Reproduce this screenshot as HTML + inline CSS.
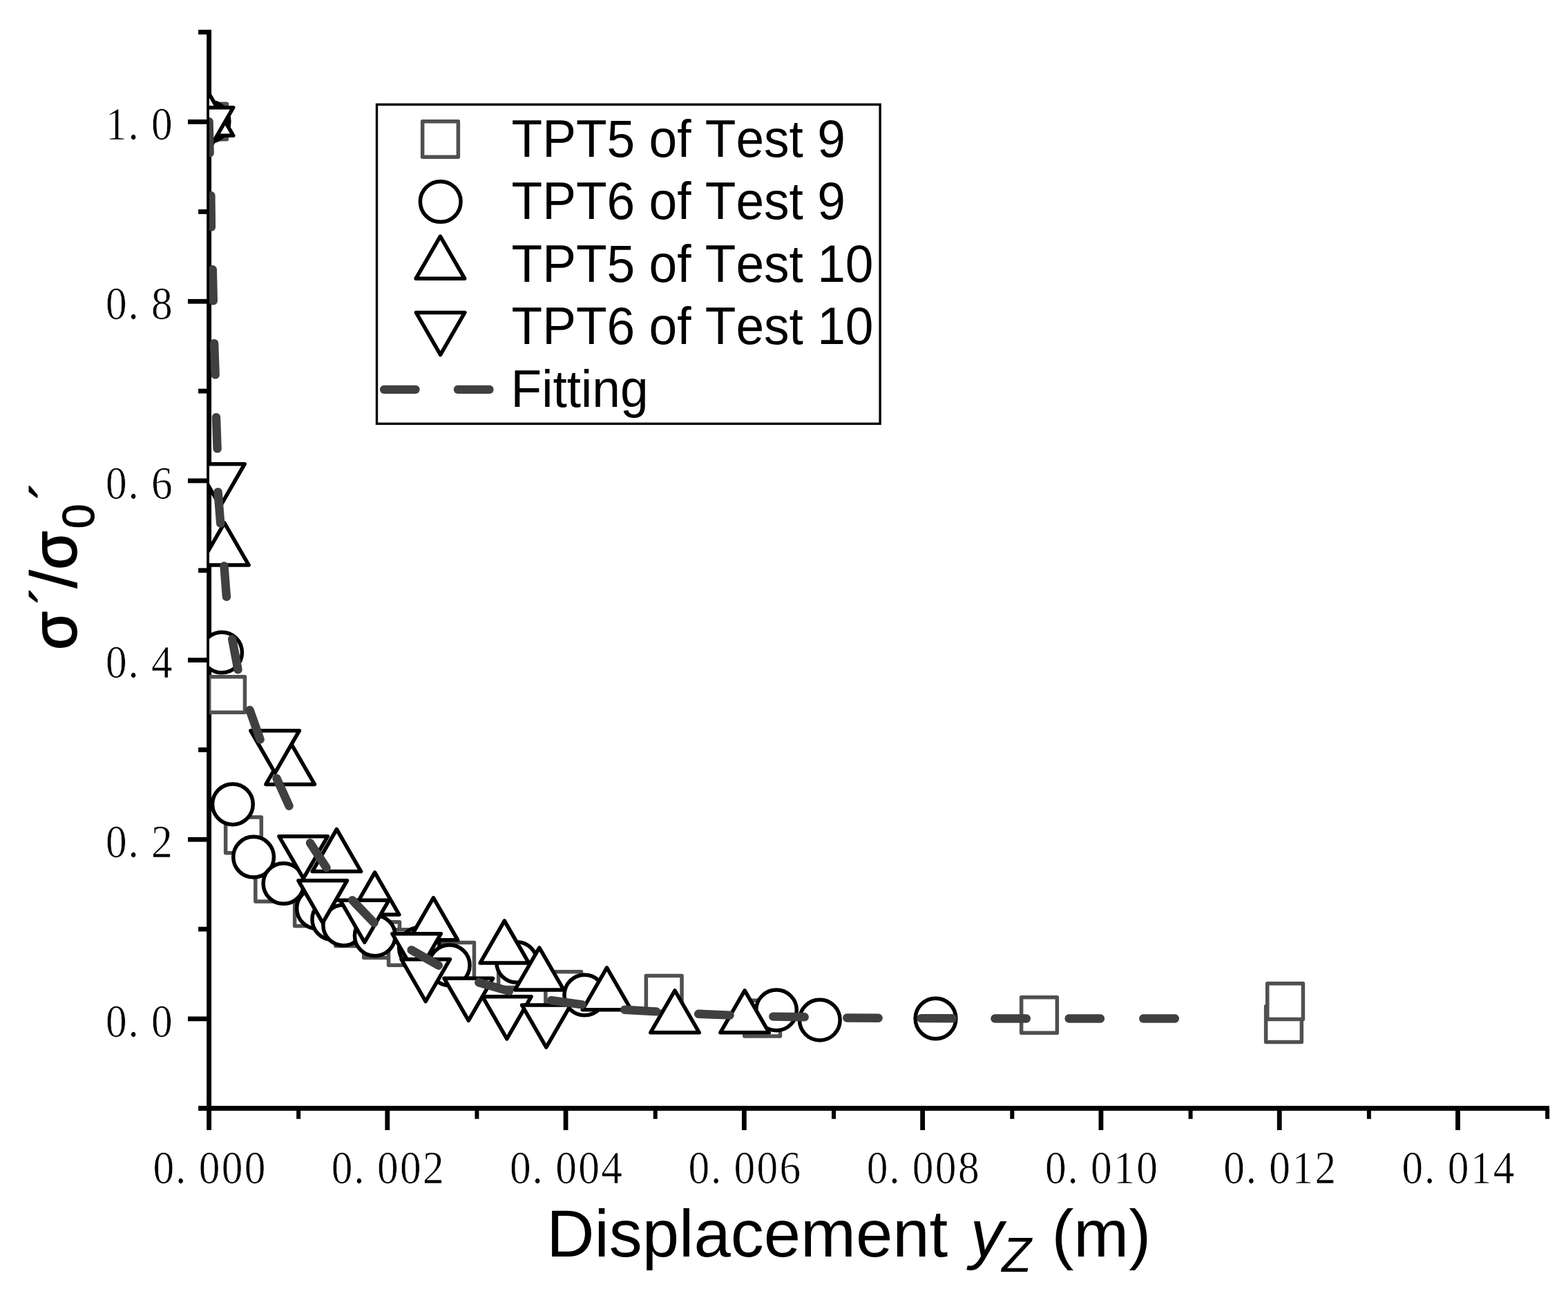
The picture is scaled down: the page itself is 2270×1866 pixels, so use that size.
<!DOCTYPE html>
<html lang="en"><head><meta charset="utf-8"><title>Normalized stress vs displacement</title>
<style>
html,body{margin:0;padding:0;background:#fff;}
body{width:2270px;height:1866px;overflow:hidden;}
svg{display:block;}
text{font-kerning:none;}
.tick{font-family:"Liberation Serif","Noto Serif CJK SC",serif;font-size:66px;fill:#000;stroke:#fff;stroke-width:0.7px;}
.sans{font-family:"Liberation Sans","Noto Sans CJK SC",sans-serif;fill:#000;}
</style></head><body>
<svg width="2270" height="1866" viewBox="0 0 2270 1866">
<rect x="0" y="0" width="2270" height="1866" fill="#fff"/>
<defs><clipPath id="plot"><rect x="303.0" y="0" width="1937.0" height="1604.4"/></clipPath></defs>

<g fill="#000" shape-rendering="auto">
<rect x="299.15" y="43.1" width="6.9" height="1592.80"/>
<rect x="287.1" y="1600.85" width="1955.90" height="7.1"/>
<rect x="272.0" y="1471.50" width="30.60" height="6.8"/>
<rect x="287.1" y="1341.67" width="15.50" height="6.8"/>
<rect x="272.0" y="1211.85" width="30.60" height="6.8"/>
<rect x="287.1" y="1082.02" width="15.50" height="6.8"/>
<rect x="272.0" y="952.20" width="30.60" height="6.8"/>
<rect x="287.1" y="822.37" width="15.50" height="6.8"/>
<rect x="272.0" y="692.55" width="30.60" height="6.8"/>
<rect x="287.1" y="562.72" width="15.50" height="6.8"/>
<rect x="272.0" y="432.90" width="30.60" height="6.8"/>
<rect x="287.1" y="303.07" width="15.50" height="6.8"/>
<rect x="272.0" y="172.95" width="30.60" height="6.8"/>
<rect x="287.1" y="43.10" width="15.50" height="6.8"/>
<rect x="429.14" y="1604.40" width="6.0" height="15.40"/>
<rect x="557.39" y="1604.40" width="6.8" height="31.60"/>
<rect x="687.43" y="1604.40" width="6.0" height="15.40"/>
<rect x="815.67" y="1604.40" width="6.8" height="31.60"/>
<rect x="945.72" y="1604.40" width="6.0" height="15.40"/>
<rect x="1073.96" y="1604.40" width="6.8" height="31.60"/>
<rect x="1204.00" y="1604.40" width="6.0" height="15.40"/>
<rect x="1332.24" y="1604.40" width="6.8" height="31.60"/>
<rect x="1462.29" y="1604.40" width="6.0" height="15.40"/>
<rect x="1590.53" y="1604.40" width="6.8" height="31.60"/>
<rect x="1720.57" y="1604.40" width="6.0" height="15.40"/>
<rect x="1848.82" y="1604.40" width="6.8" height="31.60"/>
<rect x="1978.86" y="1604.40" width="6.0" height="15.40"/>
<rect x="2107.10" y="1604.40" width="6.8" height="31.60"/>
<rect x="2237.14" y="1604.40" width="6.0" height="15.40"/>
</g>
<text class="tick" transform="translate(220.38 1713.00) scale(0.93 1.035)" x="1.27 36.21 72.34 107.88 143.42" y="0">0.000</text>
<text class="tick" transform="translate(478.66 1713.00) scale(0.93 1.035)" x="1.27 36.21 72.34 107.88 143.42" y="0">0.002</text>
<text class="tick" transform="translate(736.95 1713.00) scale(0.93 1.035)" x="1.27 36.21 72.34 107.88 143.42" y="0">0.004</text>
<text class="tick" transform="translate(995.23 1713.00) scale(0.93 1.035)" x="1.27 36.21 72.34 107.88 143.42" y="0">0.006</text>
<text class="tick" transform="translate(1253.52 1713.00) scale(0.93 1.035)" x="1.27 36.21 72.34 107.88 143.42" y="0">0.008</text>
<text class="tick" transform="translate(1511.81 1713.00) scale(0.93 1.035)" x="1.27 36.21 72.34 107.88 143.42" y="0">0.010</text>
<text class="tick" transform="translate(1770.09 1713.00) scale(0.93 1.035)" x="1.27 36.21 72.34 107.88 143.42" y="0">0.012</text>
<text class="tick" transform="translate(2028.38 1713.00) scale(0.93 1.035)" x="1.27 36.21 72.34 107.88 143.42" y="0">0.014</text>
<text class="tick" transform="translate(151.85 1500.70) scale(0.93 1.035)" x="1.27 36.21 72.34" y="0">0.0</text>
<text class="tick" transform="translate(151.85 1241.05) scale(0.93 1.035)" x="1.27 36.21 72.34" y="0">0.2</text>
<text class="tick" transform="translate(151.85 981.40) scale(0.93 1.035)" x="1.27 36.21 72.34" y="0">0.4</text>
<text class="tick" transform="translate(151.85 721.75) scale(0.93 1.035)" x="1.27 36.21 72.34" y="0">0.6</text>
<text class="tick" transform="translate(151.85 462.10) scale(0.93 1.035)" x="1.27 36.21 72.34" y="0">0.8</text>
<text class="tick" transform="translate(151.85 202.45) scale(0.93 1.035)" x="1.27 36.21 72.34" y="0">1.0</text>
<g class="sans">
<text font-size="95.9"><tspan x="791.3" y="1819">Displacement </tspan><tspan x="1404.7" y="1819" font-style="italic">y</tspan><tspan x="1450.2" y="1841" font-size="70" font-style="italic">Z</tspan><tspan x="1495.8" y="1819"> (m)</tspan></text>
<text transform="rotate(-90)" font-size="90" stroke="#000" stroke-width="1" stroke-linejoin="round"><tspan x="-940.7" y="110.4" stroke-width="2">σ</tspan><tspan x="-874.6" y="100.5" font-size="79">´</tspan><tspan x="-851.5" y="110.6" font-size="94.9">/</tspan><tspan x="-824.5" y="110.4" stroke-width="2">σ</tspan><tspan x="-765.2" y="136.4" font-size="64.5">0</tspan><tspan x="-723.0" y="100.5" font-size="79">´</tspan></text>
</g>
<g clip-path="url(#plot)">
<g fill="#fff" stroke="#505050" stroke-width="5.5" stroke-linejoin="round">
<rect x="276.65" y="150.15" width="51.7" height="51.7"/>
<rect x="302.75" y="979.65" width="51.7" height="51.7"/>
<rect x="326.65" y="1183.05" width="51.7" height="51.7"/>
<rect x="369.85" y="1253.25" width="51.7" height="51.7"/>
<rect x="426.65" y="1288.75" width="51.7" height="51.7"/>
<rect x="485.85" y="1317.75" width="51.7" height="51.7"/>
<rect x="526.75" y="1334.75" width="51.7" height="51.7"/>
<rect x="562.55" y="1345.65" width="51.7" height="51.7"/>
<rect x="634.75" y="1364.55" width="51.7" height="51.7"/>
<rect x="721.65" y="1377.75" width="51.7" height="51.7"/>
<rect x="789.85" y="1406.75" width="51.7" height="51.7"/>
<rect x="935.35" y="1412.55" width="51.7" height="51.7"/>
<rect x="1077.75" y="1448.35" width="51.7" height="51.7"/>
<rect x="1478.65" y="1443.65" width="51.7" height="51.7"/>
<rect x="1832.65" y="1456.75" width="51.7" height="51.7"/>
<rect x="1834.75" y="1423.75" width="51.7" height="51.7"/>
</g>
<g fill="#fff" stroke="#000" stroke-width="5.5" stroke-linejoin="round">
<circle cx="302.50" cy="176.00" r="29.35"/>
<circle cx="321.10" cy="944.50" r="29.35"/>
<circle cx="336.90" cy="1164.30" r="29.35"/>
<circle cx="367.10" cy="1240.70" r="29.35"/>
<circle cx="410.50" cy="1279.00" r="29.35"/>
<circle cx="459.00" cy="1315.00" r="29.35"/>
<circle cx="481.30" cy="1331.00" r="29.35"/>
<circle cx="497.20" cy="1339.30" r="29.35"/>
<circle cx="542.80" cy="1354.50" r="29.35"/>
<circle cx="607.00" cy="1372.20" r="29.35"/>
<circle cx="650.70" cy="1397.30" r="29.35"/>
<circle cx="748.10" cy="1393.00" r="29.35"/>
<circle cx="846.30" cy="1440.50" r="29.35"/>
<circle cx="1124.00" cy="1462.40" r="29.35"/>
<circle cx="1186.80" cy="1476.60" r="29.35"/>
<circle cx="1354.50" cy="1474.50" r="29.35"/>
<path d="M302.50 135.30L337.75 196.35L267.25 196.35Z"/>
<path d="M324.90 757.00L360.15 818.05L289.65 818.05Z"/>
<path d="M420.20 1074.40L455.45 1135.45L384.95 1135.45Z"/>
<path d="M487.40 1200.50L522.65 1261.55L452.15 1261.55Z"/>
<path d="M542.60 1263.00L577.85 1324.05L507.35 1324.05Z"/>
<path d="M627.40 1299.70L662.65 1360.75L592.15 1360.75Z"/>
<path d="M730.30 1333.00L765.55 1394.05L695.05 1394.05Z"/>
<path d="M780.80 1371.90L816.05 1432.95L745.55 1432.95Z"/>
<path d="M878.50 1400.80L913.75 1461.85L843.25 1461.85Z"/>
<path d="M977.00 1433.80L1012.25 1494.85L941.75 1494.85Z"/>
<path d="M1078.10 1433.80L1113.35 1494.85L1042.85 1494.85Z"/>
<path d="M302.50 216.70L337.75 155.65L267.25 155.65Z"/>
<path d="M318.90 732.80L354.15 671.75L283.65 671.75Z"/>
<path d="M398.10 1118.80L433.35 1057.75L362.85 1057.75Z"/>
<path d="M439.20 1271.70L474.45 1210.65L403.95 1210.65Z"/>
<path d="M467.20 1335.80L502.45 1274.75L431.95 1274.75Z"/>
<path d="M527.80 1364.20L563.05 1303.15L492.55 1303.15Z"/>
<path d="M603.10 1412.70L638.35 1351.65L567.85 1351.65Z"/>
<path d="M616.20 1449.70L651.45 1388.65L580.95 1388.65Z"/>
<path d="M678.30 1477.40L713.55 1416.35L643.05 1416.35Z"/>
<path d="M733.80 1503.80L769.05 1442.75L698.55 1442.75Z"/>
<path d="M790.80 1516.10L826.05 1455.05L755.55 1455.05Z"/>
</g>
<g fill="#404040">
<rect x="-28.81" y="-6.20" width="57.61" height="12.4" rx="6.0" ry="6.0" transform="translate(303.10 198.70) rotate(88.73)"/>
<rect x="-28.85" y="-6.20" width="57.70" height="12.4" rx="6.0" ry="6.0" transform="translate(305.65 305.85) rotate(89.37)"/>
<rect x="-28.81" y="-6.20" width="57.61" height="12.4" rx="6.0" ry="6.0" transform="translate(308.30 412.80) rotate(88.73)"/>
<rect x="-28.81" y="-6.20" width="57.63" height="12.4" rx="6.0" ry="6.0" transform="translate(310.90 519.80) rotate(87.97)"/>
<rect x="-28.81" y="-6.20" width="57.63" height="12.4" rx="6.0" ry="6.0" transform="translate(313.80 626.80) rotate(87.97)"/>
<rect x="-28.82" y="-6.20" width="57.64" height="12.4" rx="6.0" ry="6.0" transform="translate(317.40 734.95) rotate(85.44)"/>
<rect x="-28.42" y="-6.20" width="56.83" height="12.4" rx="6.0" ry="6.0" transform="translate(326.20 841.65) rotate(85.61)"/>
<rect x="-28.54" y="-6.20" width="57.08" height="12.4" rx="6.0" ry="6.0" transform="translate(340.35 947.35) rotate(79.29)"/>
<rect x="-28.69" y="-6.20" width="57.38" height="12.4" rx="6.0" ry="6.0" transform="translate(369.10 1049.20) rotate(70.52)"/>
<rect x="-27.97" y="-6.20" width="55.95" height="12.4" rx="6.0" ry="6.0" transform="translate(409.55 1146.75) rotate(65.73)"/>
<rect x="-27.57" y="-6.20" width="55.14" height="12.4" rx="6.0" ry="6.0" transform="translate(460.75 1238.15) rotate(56.64)"/>
<rect x="-28.87" y="-6.20" width="57.73" height="12.4" rx="6.0" ry="6.0" transform="translate(525.80 1319.55) rotate(46.16)"/>
<rect x="-28.77" y="-6.20" width="57.55" height="12.4" rx="6.0" ry="6.0" transform="translate(615.20 1386.40) rotate(29.74)"/>
<rect x="-28.93" y="-6.20" width="57.85" height="12.4" rx="6.0" ry="6.0" transform="translate(715.15 1428.55) rotate(15.96)"/>
<rect x="-28.71" y="-6.20" width="57.42" height="12.4" rx="6.0" ry="6.0" transform="translate(820.40 1451.25) rotate(7.79)"/>
<rect x="-29.09" y="-6.20" width="58.18" height="12.4" rx="6.0" ry="6.0" transform="translate(927.15 1463.05) rotate(3.38)"/>
<rect x="-28.87" y="-6.20" width="57.74" height="12.4" rx="6.0" ry="6.0" transform="translate(1033.85 1468.70) rotate(2.28)"/>
<rect x="-28.90" y="-6.20" width="57.81" height="12.4" rx="6.0" ry="6.0" transform="translate(1142.00 1471.95) rotate(0.88)"/>
<rect x="-28.85" y="-6.20" width="57.70" height="12.4" rx="6.0" ry="6.0" transform="translate(1248.95 1473.65) rotate(0.38)"/>
<rect x="-28.90" y="-6.20" width="57.80" height="12.4" rx="6.0" ry="6.0" transform="translate(1356.10 1474.15) rotate(0.13)"/>
<rect x="-28.85" y="-6.20" width="57.70" height="12.4" rx="6.0" ry="6.0" transform="translate(1463.15 1474.50) rotate(0.00)"/>
<rect x="-28.80" y="-6.20" width="57.60" height="12.4" rx="6.0" ry="6.0" transform="translate(1570.30 1474.50) rotate(0.00)"/>
<rect x="-28.95" y="-6.20" width="57.90" height="12.4" rx="6.0" ry="6.0" transform="translate(1678.05 1474.50) rotate(0.00)"/>
</g></g>
<rect x="545.5" y="151.3" width="728.60" height="462.10" fill="#fff" stroke="#000" stroke-width="3.4"/>
<g fill="#fff" stroke="#505050" stroke-width="5.5" stroke-linejoin="round"><rect x="611.65" y="175.65" width="51.7" height="51.7"/></g>
<g fill="#fff" stroke="#000" stroke-width="5.5" stroke-linejoin="round"><circle cx="637.70" cy="292.00" r="29.35"/><path d="M637.40 342.20L672.65 403.25L602.15 403.25Z"/><path d="M637.60 513.50L672.85 452.45L602.35 452.45Z"/></g>
<g fill="#404040"><rect x="-28.85" y="-6.20" width="57.70" height="12.4" rx="6.0" ry="6.0" transform="translate(578.80 563.90) rotate(0.00)"/><rect x="-28.95" y="-6.20" width="57.90" height="12.4" rx="6.0" ry="6.0" transform="translate(685.70 563.90) rotate(0.00)"/></g>
<g class="sans">
<text transform="translate(740.50 227.00) scale(1 1.045)" font-size="73.1">TPT5 of Test 9</text>
<text transform="translate(740.50 317.40) scale(1 1.045)" font-size="73.1">TPT6 of Test 9</text>
<text transform="translate(740.50 407.80) scale(1 1.045)" font-size="73.1">TPT5 of Test 10</text>
<text transform="translate(740.50 498.30) scale(1 1.045)" font-size="73.1">TPT6 of Test 10</text>
<text transform="translate(739.50 588.60) scale(1 1.045)" font-size="73.1">Fitting</text>
</g>
</svg></body></html>
